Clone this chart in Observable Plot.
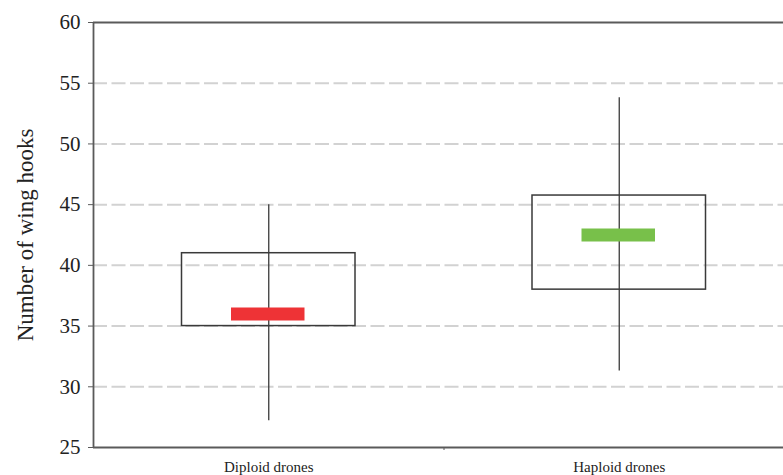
<!DOCTYPE html>
<html><head><meta charset="utf-8">
<script src="https://cdn.jsdelivr.net/npm/d3@7"></script>
<script src="https://cdn.jsdelivr.net/npm/@observablehq/plot@0.6"></script>
<style>body{margin:0;background:#fff;overflow:hidden}</style>
</head><body><div id="chart"></div>
<script>
const groups = ["Diploid drones", "Haploid drones"];
const whiskerLow = [27.2, 31.3];
const q1 = [35.0, 38.0];
const median = [36.0, 42.5];
const q3 = [41.0, 45.75];
const whiskerHigh = [45.0, 53.8];
const colors = ["#ee3336", "#78c04a"];
const yTicks = [25, 30, 35, 40, 45, 50, 55, 60];
const gridValues = [30, 35, 40, 45, 50, 55];
const yTitle = "Number of wing hooks";

const data = groups.map((g, i) => ({
  g, i, lo: whiskerLow[i], q1: q1[i], med: median[i], q3: q3[i], hi: whiskerHigh[i], color: colors[i]
}));

const axisColor = "#5a5a5a";

const chart = Plot.plot({
  width: 783,
  height: 475,
  marginLeft: 93,
  marginRight: 0,
  marginTop: 22,
  marginBottom: 28,
  style: {fontFamily: "'Liberation Serif', 'Times New Roman', serif", background: "#fff", color: "#222"},
  x: {type: "linear", domain: [0, groups.length], range: [93, 794]},
  y: {domain: [yTicks[0], yTicks[yTicks.length - 1]]},
  marks: [
    Plot.ruleY(gridValues, {stroke: "#d2d2d2", strokeWidth: 2, strokeDasharray: "14,4.5"}),
    Plot.ruleX(data, {x: d => d.i + 0.5, y1: "lo", y2: "hi", stroke: "#3a3a3a", strokeWidth: 1.3}),
    Plot.rect(data, {x1: d => d.i, x2: d => d.i + 1, y1: "q1", y2: "q3", fill: "none", stroke: "#3a3a3a", strokeWidth: 1.5, insetLeft: 88.5, insetRight: 88.5}),
    Plot.ruleY(data, {x1: d => d.i, x2: d => d.i + 1, y: "med", stroke: d => d.color, strokeWidth: 13, insetLeft: 138, insetRight: 139}),
    Plot.ruleY([yTicks[0], yTicks[yTicks.length - 1]], {stroke: axisColor, strokeWidth: 1.8}),
    Plot.ruleX([0], {stroke: axisColor, strokeWidth: 1.8}),
    Plot.axisY({ticks: yTicks, tickSize: 5, tickPadding: 8, fontSize: 21, label: null, stroke: axisColor, fill: "#222"}),
    Plot.axisX({ticks: groups.map((g, i) => i + 0.5), tickFormat: v => groups[Math.floor(v)], tickSize: 0, tickPadding: 14, fontSize: 15, label: null, fill: "#222"}),
    Plot.axisX({ticks: d3.range(1, groups.length), tickFormat: () => "", tickSize: 3, label: null, stroke: axisColor}),
    Plot.text([yTitle], {text: d => d, frameAnchor: "left", textAnchor: "middle", rotate: -90, dx: -68, fontSize: 23, fill: "#222"})
  ]
});
document.getElementById("chart").appendChild(chart);
</script>
</body></html>
